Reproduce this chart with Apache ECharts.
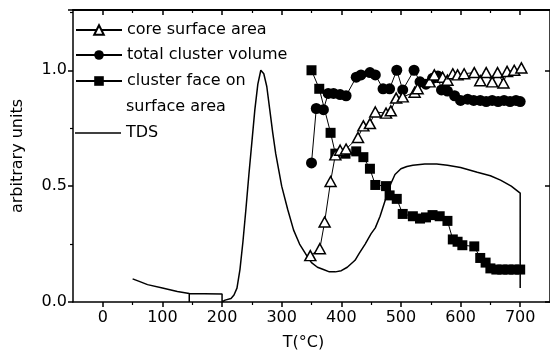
<!DOCTYPE html>
<html><head><meta charset="utf-8">
<script src="https://cdn.jsdelivr.net/npm/echarts@6/dist/echarts.min.js"></script>
<style>html,body{margin:0;padding:0;background:#fff}#c{width:550px;height:357px}</style>
</head><body><div id="c"></div>
<script>
// ---- data ----
var xTickValues = [0, 100, 200, 300, 400, 500, 600, 700];
var xMinorValues = [50, 150, 250, 350, 450, 550, 650];
var yTickLabels = ['0.0', '0.5', '1.0'];

var coreT = [348,364,372,382,390,398,408,428,437,448,457,475,483,492,503,523,528,548,556,570,578,587,595,606,623,633,643,653,662,672,678,690,702];
var coreV = [0.20,0.23,0.345,0.52,0.635,0.655,0.66,0.71,0.76,0.77,0.82,0.815,0.825,0.88,0.885,0.905,0.92,0.95,0.98,0.97,0.957,0.985,0.98,0.985,0.99,0.955,0.99,0.95,0.99,0.945,0.995,1.0,1.01];

var volT = [350,358,370,378,387,398,408,425,433,448,457,470,481,493,503,522,532,542,553,562,568,578,590,600,612,622,633,643,653,663,673,683,693,700];
var volV = [0.60,0.835,0.83,0.90,0.90,0.895,0.89,0.97,0.98,0.99,0.98,0.92,0.92,1.0,0.915,1.0,0.95,0.94,0.965,0.975,0.915,0.91,0.89,0.87,0.875,0.87,0.87,0.865,0.87,0.865,0.87,0.865,0.87,0.865];

var faceT = [350,363,382,390,407,425,437,448,457,475,481,493,503,520,532,542,553,565,578,587,595,603,623,633,642,650,660,670,680,690,700];
var faceV = [1.0,0.92,0.73,0.64,0.64,0.65,0.625,0.575,0.505,0.50,0.46,0.445,0.38,0.37,0.36,0.365,0.375,0.37,0.35,0.27,0.26,0.245,0.24,0.19,0.17,0.145,0.14,0.14,0.14,0.14,0.14];

var tdsT = [50,60,75,100,125,145,145,145,170,200,200,205,215,220,225,230,235,240,245,250,255,260,265,270,275,280,285,290,295,300,310,320,330,342,350,360,370,380,390,400,410,423,430,440,450,457,465,475,483,490,500,510,520,540,560,578,600,628,650,667,685,700,700];
var tdsV = [0.10,0.09,0.075,0.06,0.045,0.037,0.0,0.037,0.036,0.035,0.0,0.008,0.015,0.03,0.06,0.14,0.26,0.40,0.55,0.69,0.83,0.94,1.0,0.985,0.93,0.83,0.73,0.64,0.57,0.50,0.40,0.31,0.25,0.20,0.17,0.15,0.14,0.13,0.13,0.135,0.15,0.18,0.21,0.25,0.295,0.32,0.37,0.45,0.51,0.55,0.575,0.585,0.59,0.595,0.595,0.59,0.58,0.56,0.545,0.526,0.50,0.47,0.06];

var seriesNames = ['core surface area', 'total cluster volume', 'cluster face on surface area', 'TDS'];

function zip(a, b) { return a.map(function (v, i) { return [v, b[i]]; }); }

var FONT = '"DejaVu Sans", sans-serif';
var FS = 16;
var chart = echarts.init(document.getElementById('c'), null, {renderer: 'canvas'});

var gridBox = {left: 73, top: 10, width: 480, height: 292};

function legendAt(name, top, extra) {
  var l = {
    data: [name], left: 75, top: top, orient: 'vertical', padding: 0,
    itemWidth: 46, itemHeight: 12, itemGap: 0,
    textStyle: {fontFamily: FONT, fontSize: FS, color: '#000'},
    selectedMode: false
  };
  for (var k in extra) l[k] = extra[k];
  return l;
}

var option = {
  animation: false,
  backgroundColor: '#fff',
  grid: gridBox,
  legend: [
    legendAt(seriesNames[0], 22),
    legendAt(seriesNames[1], 47),
    legendAt(seriesNames[2], 73, {formatter: function () { return 'cluster face on'; }}),
    legendAt(seriesNames[3], 125, {icon: 'rect', itemHeight: 1.5, itemStyle: {color: '#000', borderWidth: 0}})
  ],
  graphic: [{
    type: 'text', left: 126, top: 99,
    style: {text: 'surface area', font: FS + 'px ' + FONT, fill: '#000'}
  }],
  xAxis: [
    {
      type: 'value', position: 'bottom', min: -50, max: 750,
      name: 'T(°C)', nameLocation: 'middle', nameGap: 33,
      nameTextStyle: {fontFamily: FONT, fontSize: FS, color: '#000', padding: [0, 16, 0, 0]},
      axisLine: {show: true, onZero: false, lineStyle: {color: '#000', width: 1.5}},
      axisTick: {show: true, inside: false, length: 5, customValues: xTickValues, lineStyle: {color: '#000', width: 1.5}},
      axisLabel: {show: true, customValues: xTickValues, margin: 8, fontFamily: FONT, fontSize: FS, color: '#000'},
      splitLine: {show: false}
    },
    {
      type: 'value', position: 'bottom', min: -50, max: 750,
      axisLine: {show: false, onZero: false},
      axisTick: {show: true, inside: false, length: 3, customValues: xMinorValues, lineStyle: {color: '#000', width: 1.2}},
      axisLabel: {show: false}, splitLine: {show: false}
    },
    {
      type: 'value', position: 'top', min: -50, max: 750,
      axisLine: {show: true, onZero: false, lineStyle: {color: '#000', width: 2}},
      axisTick: {show: true, inside: true, length: 5, customValues: xTickValues, lineStyle: {color: '#000', width: 1.5}},
      axisLabel: {show: false}, splitLine: {show: false}
    },
    {
      type: 'value', position: 'top', min: -50, max: 750,
      axisLine: {show: false, onZero: false},
      axisTick: {show: true, inside: true, length: 3, customValues: xMinorValues, lineStyle: {color: '#000', width: 1.2}},
      axisLabel: {show: false}, splitLine: {show: false}
    }
  ],
  yAxis: [
    {
      type: 'value', position: 'left', min: 0, max: 1.26, interval: 0.5,
      name: 'arbitrary units', nameLocation: 'middle', nameGap: 47, nameRotate: 90,
      nameTextStyle: {fontFamily: FONT, fontSize: FS, color: '#000'},
      axisLine: {show: true, onZero: false, lineStyle: {color: '#000', width: 1.5}},
      axisTick: {show: true, inside: false, length: 5, lineStyle: {color: '#000', width: 1.5}},
      minorTick: {show: true, splitNumber: 2, length: 3, lineStyle: {color: '#000', width: 1.2}},
      axisLabel: {show: true, margin: 6, fontFamily: FONT, fontSize: FS, color: '#000',
        formatter: function (v) { var i = Math.round(v / 0.5); return yTickLabels[i] !== undefined ? yTickLabels[i] : ''; }},
      splitLine: {show: false}
    },
    {
      type: 'value', position: 'right', min: 0, max: 1.26, interval: 0.5,
      axisLine: {show: true, onZero: false, lineStyle: {color: '#000', width: 1.5}},
      axisTick: {show: true, inside: true, length: 5, lineStyle: {color: '#000', width: 1.5}},
      axisLabel: {show: false}, splitLine: {show: false}
    }
  ],
  series: [
    {
      name: seriesNames[3], type: 'line', data: zip(tdsT, tdsV), symbol: 'none',
      lineStyle: {color: '#000', width: 1.5}, itemStyle: {color: '#000'}, z: 1
    },
    {
      name: seriesNames[2], type: 'line', data: zip(faceT, faceV), symbol: 'rect', symbolSize: 10,
      lineStyle: {color: '#000', width: 1}, itemStyle: {color: '#000', borderColor: '#000', borderWidth: 0}, z: 3
    },
    {
      name: seriesNames[1], type: 'line', data: zip(volT, volV), symbol: 'circle', symbolSize: 11,
      lineStyle: {color: '#000', width: 1}, itemStyle: {color: '#000', borderColor: '#000', borderWidth: 0}, z: 4
    },
    {
      name: seriesNames[0], type: 'line', data: zip(coreT, coreV), symbol: 'triangle', symbolSize: [11, 10],
      lineStyle: {color: '#000', width: 1}, itemStyle: {color: '#fff', borderColor: '#000', borderWidth: 1.5}, z: 5
    }
  ]
};
chart.setOption(option);
</script>
</body></html>
